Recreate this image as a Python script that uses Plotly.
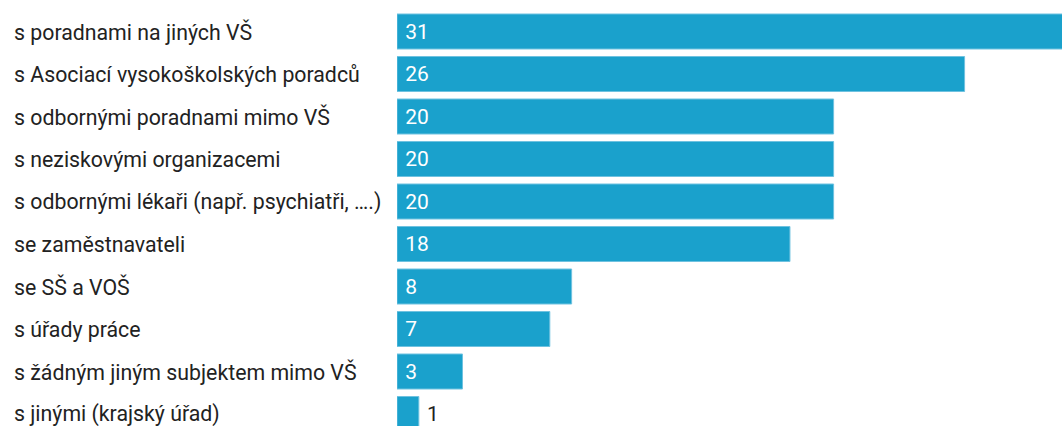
import plotly.graph_objects as go

categories = [
    "s poradnami na jiných VŠ",
    "s Asociací vysokoškolských poradců",
    "s odbornými poradnami mimo VŠ",
    "s neziskovými organizacemi",
    "s odbornými lékaři (např. psychiatři, ….)",
    "se zaměstnavateli",
    "se SŠ a VOŠ",
    "s úřady práce",
    "s žádným jiným subjektem mimo VŠ",
    "s jinými (krajský úřad)",
]
values = [31, 26, 20, 20, 20, 18, 8, 7, 3, 1]

BAR = "#1aa1cc"
W, H = 1062, 426
LEFT = 397
plot_w = W - LEFT
px_per_unit = 21.83
x_max = plot_w / px_per_unit

pitch = 42.5
span = H / pitch
top = -31.5 / pitch
bottom = top + span

positions = ["inside" if v >= 3 else "outside" for v in values]
text_colors = ["white" if p == "inside" else "#222222" for p in positions]

fig = go.Figure(
    go.Bar(
        x=values,
        y=categories,
        orientation="h",
        marker=dict(color=BAR, line=dict(color="#6fc2e0", width=1)),
        text=[" " + str(v) for v in values],
        textposition=positions,
        insidetextanchor="start",
        textfont=dict(family="Roboto", size=21, color=text_colors),
        cliponaxis=True,
        hoverinfo="skip",
    )
)

for c in categories:
    fig.add_annotation(
        x=(12 - LEFT) / plot_w,
        xref="paper",
        y=c,
        yref="y",
        text=c,
        showarrow=False,
        xanchor="left",
        yanchor="middle",
        font=dict(family="Roboto", size=21.3, color="#222222"),
    )

fig.update_layout(
    width=W,
    height=H,
    margin=dict(l=LEFT, r=0, t=0, b=0),
    paper_bgcolor="white",
    plot_bgcolor="white",
    bargap=1 - 35 / pitch,
    showlegend=False,
    xaxis=dict(range=[0, x_max], visible=False, fixedrange=True),
    yaxis=dict(
        range=[bottom, top],
        showticklabels=False,
        showgrid=False,
        zeroline=False,
        ticks="",
        fixedrange=True,
    ),
    uniformtext=dict(minsize=21, mode="show"),
)

fig.write_html(
    "out.html",
    config={"displayModeBar": False},
    post_script="document.body.style.margin='0';document.body.style.overflow='hidden';",
)
